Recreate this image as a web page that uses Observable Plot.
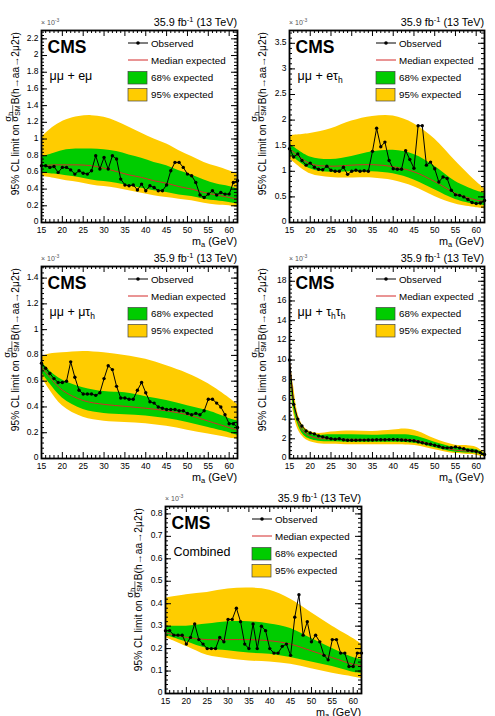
<!DOCTYPE html>
<html><head><meta charset="utf-8">
<script src="https://cdn.jsdelivr.net/npm/d3@7"></script>
<script src="https://cdn.jsdelivr.net/npm/@observablehq/plot@0.6"></script>
<style>
body{margin:0;background:#fff;}
#wrap{position:relative;width:495px;height:716px;overflow:hidden;font-family:"Liberation Sans",Arial,sans-serif;background:#fff;}
#wrap svg{position:absolute;overflow:visible;}
</style></head><body><div id="wrap"></div>
<script>
// ---------- data ----------
const massObs = [15,16,17,18,19,20,21,22,23,24,25,26,27,28,29,30,31,32,33,34,35,36,37,38,39,40,41,42,43,44,45,46,47,48,49,50,51,52,53,54,55,56,57,58,59,60,61,62];
const xMajorTicks = [15,20,25,30,35,40,45,50,55,60];

// mumu + emu
const obs1 = [0.68,0.68,0.66,0.67,0.60,0.66,0.66,0.63,0.58,0.62,0.59,0.58,0.62,0.80,0.64,0.78,0.64,0.80,0.76,0.52,0.45,0.44,0.45,0.39,0.46,0.38,0.44,0.42,0.38,0.38,0.45,0.62,0.72,0.72,0.66,0.58,0.56,0.48,0.33,0.30,0.34,0.38,0.33,0.36,0.34,0.34,0.48,0.50];
const bandMass1 = [15,18,21,24,27,30,33,36,39,42,45,48,51,54,57,60,62];
const hi95_1 = [1.02,1.15,1.23,1.27,1.28,1.26,1.21,1.14,1.07,1.00,0.94,0.86,0.79,0.72,0.67,0.62,0.58];
const hi68_1 = [0.78,0.83,0.87,0.88,0.88,0.87,0.85,0.81,0.77,0.72,0.68,0.62,0.57,0.51,0.46,0.43,0.40];
const med_1  = [0.68,0.69,0.69,0.69,0.68,0.65,0.61,0.57,0.54,0.50,0.47,0.43,0.40,0.36,0.33,0.30,0.28];
const lo68_1 = [0.60,0.58,0.56,0.54,0.51,0.49,0.47,0.44,0.41,0.38,0.36,0.33,0.31,0.28,0.26,0.24,0.22];
const lo95_1 = [0.55,0.53,0.50,0.48,0.45,0.43,0.41,0.38,0.35,0.32,0.30,0.28,0.26,0.23,0.21,0.20,0.18];

// mumu + e tau_h
const obs2 = [1.44,1.28,1.34,1.21,1.12,1.16,1.08,1.04,1.03,1.10,1.02,1.00,1.00,1.08,0.94,1.00,1.02,1.00,1.01,1.00,1.39,1.84,1.48,1.57,1.21,1.05,1.04,1.04,1.40,1.23,1.06,1.89,1.89,1.12,1.18,1.05,0.79,0.89,0.86,0.63,0.54,0.53,0.50,0.45,0.39,0.37,0.38,0.43];
const bandMass2 = [15,20,25,30,35,40,45,50,55,60,62];
const hi95_2 = [1.70,1.74,1.83,1.98,2.07,2.08,1.93,1.63,1.20,0.80,0.66];
const hi68_2 = [1.54,1.28,1.23,1.29,1.38,1.41,1.33,1.10,0.80,0.62,0.57];
const med_2  = [1.44,1.15,1.10,1.12,1.13,1.09,0.99,0.80,0.57,0.44,0.41];
const lo68_2 = [1.34,1.05,0.98,0.99,0.99,0.95,0.83,0.64,0.45,0.35,0.33];
const lo95_2 = [1.25,0.95,0.88,0.87,0.87,0.82,0.70,0.51,0.36,0.29,0.27];

// mumu + mu tau_h
const obs3 = [0.74,0.70,0.66,0.62,0.59,0.59,0.60,0.75,0.63,0.53,0.50,0.50,0.50,0.49,0.51,0.62,0.72,0.69,0.56,0.47,0.47,0.46,0.46,0.53,0.59,0.51,0.44,0.43,0.40,0.39,0.38,0.38,0.38,0.37,0.37,0.35,0.34,0.35,0.34,0.37,0.46,0.46,0.43,0.40,0.34,0.27,0.27,0.24];
const bandMass3 = [15,17,20,25,30,35,40,45,50,55,60,62];
const hi95_3 = [0.79,0.81,0.82,0.83,0.82,0.80,0.77,0.72,0.66,0.58,0.47,0.42];
const hi68_3 = [0.75,0.68,0.61,0.55,0.52,0.51,0.48,0.45,0.41,0.37,0.31,0.29];
const med_3  = [0.71,0.63,0.53,0.45,0.42,0.405,0.39,0.37,0.34,0.29,0.24,0.22];
const lo68_3 = [0.67,0.58,0.47,0.38,0.35,0.34,0.33,0.31,0.28,0.24,0.20,0.18];
const lo95_3 = [0.63,0.53,0.41,0.32,0.29,0.28,0.27,0.25,0.22,0.19,0.16,0.15];

// mumu + tau_h tau_h
const obs4 = [10.0,5.5,4.0,3.3,2.8,2.6,2.5,2.3,2.2,2.1,2.0,1.96,2.0,1.9,1.85,1.85,1.85,1.87,1.87,1.88,1.88,1.9,1.9,1.9,1.92,1.93,1.9,1.88,1.85,1.83,1.8,1.7,1.6,1.5,1.45,1.35,1.25,1.1,1.08,1.1,1.18,1.08,1.0,0.85,0.78,0.74,0.6,0.4];
const bandMass4 = [15,16,17,18,19,20,22,25,30,35,40,43,46,50,55,58,60,62];
const hi95_4 = [10.6,7.3,4.6,3.5,3.0,2.75,2.55,2.7,2.8,2.75,2.9,3.0,2.75,2.0,1.35,1.3,1.15,0.6];
const hi68_4 = [10.3,6.4,4.2,3.2,2.7,2.5,2.35,2.4,2.4,2.35,2.4,2.4,2.2,1.65,1.1,1.0,0.9,0.5];
const med_4  = [9.8,5.7,3.9,2.9,2.5,2.25,2.05,1.98,1.95,1.93,1.96,1.95,1.8,1.35,0.85,0.75,0.68,0.35];
const lo68_4 = [9.3,5.1,3.5,2.6,2.15,1.95,1.75,1.7,1.65,1.65,1.65,1.62,1.5,1.1,0.64,0.55,0.5,0.24];
const lo95_4 = [8.8,4.6,3.0,2.3,1.9,1.7,1.5,1.45,1.4,1.4,1.4,1.38,1.28,0.9,0.5,0.4,0.34,0.17];

// combined
const obs5 = [0.28,0.28,0.26,0.26,0.26,0.22,0.25,0.31,0.24,0.22,0.20,0.20,0.20,0.25,0.23,0.33,0.33,0.38,0.32,0.22,0.20,0.31,0.20,0.30,0.28,0.20,0.18,0.18,0.21,0.22,0.17,0.34,0.44,0.26,0.32,0.23,0.26,0.23,0.17,0.15,0.24,0.24,0.18,0.18,0.12,0.12,0.18,0.18];
const bandMass5 = [15,20,25,30,35,40,45,50,55,60,62];
const hi95_5 = [0.425,0.44,0.45,0.465,0.47,0.46,0.42,0.36,0.30,0.245,0.22];
const hi68_5 = [0.30,0.30,0.31,0.32,0.32,0.31,0.29,0.245,0.20,0.16,0.15];
const med_5  = [0.27,0.25,0.24,0.24,0.24,0.235,0.22,0.19,0.16,0.13,0.125];
const lo68_5 = [0.26,0.23,0.20,0.19,0.18,0.175,0.16,0.14,0.12,0.095,0.09];
const lo95_5 = [0.25,0.21,0.17,0.155,0.145,0.14,0.13,0.11,0.09,0.074,0.067];

const channelLabels = ['μμ + eμ','μμ + eτ<tspan font-size="8.5" dy="3">h</tspan>','μμ + μτ<tspan font-size="8.5" dy="3">h</tspan>','μμ + τ<tspan font-size="8.5" dy="3">h</tspan><tspan dy="-3">τ</tspan><tspan font-size="8.5" dy="3">h</tspan>','Combined'];

// ---------- layout ----------
const panels = [
  {left:0,   top:0,   width:247, height:240, ml:41, mr:10, mt:30, mb:18, ymax:2.3,  ystep:0.2, yminor:0.04, tOff:21.7, obs:obs1, bm:bandMass1, h95:hi95_1, h68:hi68_1, med:med_1, l68:lo68_1, l95:lo95_1, label:channelLabels[0]},
  {left:247, top:0,   width:248, height:240, ml:42, mr:11, mt:30, mb:18, ymax:3.75, ystep:0.5, yminor:0.1,  tOff:23.5, obs:obs2, bm:bandMass2, h95:hi95_2, h68:hi68_2, med:med_2, l68:lo68_2, l95:lo95_2, label:channelLabels[1]},
  {left:0,   top:236, width:247, height:240, ml:41, mr:10, mt:30, mb:18, ymax:1.49, ystep:0.2, yminor:0.04, tOff:22.5, obs:obs3, bm:bandMass3, h95:hi95_3, h68:hi68_3, med:med_3, l68:lo68_3, l95:lo95_3, label:channelLabels[2]},
  {left:247, top:236, width:248, height:240, ml:42, mr:11, mt:30, mb:18, ymax:19.5, ystep:2,   yminor:0.4,  tOff:23.5, obs:obs4, bm:bandMass4, h95:hi95_4, h68:hi68_4, med:med_4, l68:lo68_4, l95:lo95_4, label:channelLabels[3]},
  {left:124, top:476, width:247, height:235, ml:41, mr:10, mt:30, mb:18, ymax:0.833,ystep:0.1, yminor:0.02, tOff:23.5, obs:obs5, bm:bandMass5, h95:hi95_5, h68:hi68_5, med:med_5, l68:lo68_5, l95:lo95_5, label:channelLabels[4]}
];

const YELLOW = "#ffcc00", GREEN = "#00cc00", RED = "#d42a2a";
const wrap = document.getElementById("wrap");

function rangeTicks(max, step) {
  const out = [];
  for (let i = 0; i * step <= max + 1e-9; i++) out.push(+(i * step).toFixed(4));
  return out;
}
const fmt = d => String(+d.toFixed(3));

function addText(g, x, y, html, size, anchor, weight, fill) {
  return g.append("text").attr("x", x).attr("y", y).attr("font-size", size)
    .attr("text-anchor", anchor || "start").attr("font-weight", weight || "normal")
    .attr("fill", fill || "black").html(html);
}

panels.forEach((p, idx) => {
  const iw = p.width - p.ml - p.mr, ih = p.height - p.mt - p.mb;
  const obsData = massObs.map((m, i) => ({m, v: p.obs[i]}));
  const band = p.bm.map((m, i) => ({m, h95: p.h95[i], h68: p.h68[i], med: p.med[i], l68: p.l68[i], l95: p.l95[i]}));
  const xMinor = massObs.filter(m => m % 5 !== 0);
  const yMajor = rangeTicks(p.ymax, p.ystep);
  const yMinor = rangeTicks(p.ymax, p.yminor);
  const tk = {stroke: "black", strokeWidth: 1};
  const chart = Plot.plot({
    width: p.width, height: p.height,
    marginLeft: p.ml, marginRight: p.mr, marginTop: p.mt, marginBottom: p.mb,
    style: {background: "transparent", overflow: "visible", fontFamily: "Liberation Sans, Arial, sans-serif", fontSize: "8.5px", color: "black"},
    x: {domain: [15, 62]},
    y: {domain: [0, p.ymax]},
    marks: [
      Plot.areaY(band, {x: "m", y1: "l95", y2: "h95", fill: YELLOW, curve: "catmull-rom", clip: true}),
      Plot.areaY(band, {x: "m", y1: "l68", y2: "h68", fill: GREEN, curve: "catmull-rom", clip: true}),
      Plot.lineY(band, {x: "m", y: "med", stroke: RED, strokeWidth: 1, curve: "catmull-rom", clip: true}),
      Plot.lineY(obsData, {x: "m", y: "v", stroke: "black", strokeWidth: 1}),
      Plot.dot(obsData, {x: "m", y: "v", r: 1.7, fill: "black", stroke: "none"}),
      // inward ticks on all four sides
      Plot.tickX(xMajorTicks, {x: d => d, insetTop: ih - 6, ...tk}),
      Plot.tickX(xMinor, {x: d => d, insetTop: ih - 3, ...tk}),
      Plot.tickX(xMajorTicks, {x: d => d, insetBottom: ih - 6, ...tk}),
      Plot.tickX(xMinor, {x: d => d, insetBottom: ih - 3, ...tk}),
      Plot.tickY(yMajor, {y: d => d, insetRight: iw - 6, ...tk}),
      Plot.tickY(yMinor, {y: d => d, insetRight: iw - 3, ...tk}),
      Plot.tickY(yMajor, {y: d => d, insetLeft: iw - 6, ...tk}),
      Plot.tickY(yMinor, {y: d => d, insetLeft: iw - 3, ...tk}),
      Plot.frame({stroke: "black", strokeWidth: 1.8}),
      Plot.axisX({ticks: xMajorTicks, tickSize: 0, tickPadding: 4.5, label: null, fontSize: 8.5}),
      Plot.axisY({ticks: yMajor, tickSize: 0, tickPadding: 3, label: null, tickFormat: fmt, fontSize: 8.5, dy: -0.8})
    ]
  });
  chart.style.left = p.left + "px";
  chart.style.top = p.top + "px";
  wrap.appendChild(chart);

  const svg = d3.select(chart);
  const g = svg.append("g").attr("font-family", "Liberation Sans, Arial, sans-serif");
  const xr = p.ml + iw, yb = p.mt + ih;
  // header
  addText(g, xr, p.mt - 4, '35.9 fb<tspan font-size="7.5" dy="-4">-1</tspan><tspan dy="4"> (13 TeV)</tspan>', 10.8, "end");
  addText(g, p.ml, p.mt - 5, '× 10<tspan font-size="5" dy="-3">-3</tspan>', 7, "start", "normal", "#555");
  // CMS + channel
  addText(g, p.ml + 6.5, p.mt + 22.7, 'CMS', 17.5, "start", "bold");
  addText(g, p.ml + 8.5, p.mt + 50, p.label, 12.5, "start");
  // legend
  const lx = p.ml + 87, ly = p.mt + 13;
  g.append("line").attr("x1", lx).attr("x2", lx + 20).attr("y1", ly).attr("y2", ly).attr("stroke", "black");
  g.append("circle").attr("cx", lx + 10).attr("cy", ly).attr("r", 1.8).attr("fill", "black");
  addText(g, lx + 23, ly + 3.5, 'Observed', 9.8);
  g.append("line").attr("x1", lx).attr("x2", lx + 20).attr("y1", ly + 17).attr("y2", ly + 17).attr("stroke", RED);
  addText(g, lx + 23, ly + 20.5, 'Median expected', 9.8);
  g.append("rect").attr("x", lx).attr("y", ly + 28.5).attr("width", 19).attr("height", 12.5).attr("fill", GREEN).attr("stroke", "#444").attr("stroke-width", 0.7);
  addText(g, lx + 23, ly + 38, '68% expected', 9.8);
  g.append("rect").attr("x", lx).attr("y", ly + 45.5).attr("width", 19).attr("height", 12.5).attr("fill", YELLOW).attr("stroke", "#444").attr("stroke-width", 0.7);
  addText(g, lx + 23, ly + 55, '95% expected', 9.8);
  // x title
  addText(g, xr, yb + 22.5, 'm<tspan font-size="7.5" dy="2.5">a</tspan><tspan dy="-2.5"> (GeV)</tspan>', 10.8, "end");
  // y title (rotated)
  const yt = g.append("g");
  const t1 = addText(yt, 0, 0, '95% CL limit on', 10.2);
  const w1 = t1.node().getComputedTextLength() + 2.5;
  const num = addText(yt, w1, -8.3, 'σ<tspan font-size="7" dy="2">h</tspan>', 9.5);
  const den = addText(yt, w1, -1.4, 'σ<tspan font-size="7" dy="2">SM</tspan>', 9.5);
  const fw = Math.max(num.node().getBBox().width, den.node().getBBox().width);
  yt.append("line").attr("x1", w1).attr("x2", w1 + fw).attr("y1", -6.6).attr("y2", -6.6).attr("stroke", "black").attr("stroke-width", 0.6);
  const t3 = addText(yt, w1 + fw + 1, 0, 'B(h→aa→2μ2τ)', 10.2);
  const total = w1 + fw + 1 + t3.node().getComputedTextLength();
  yt.attr("transform", `translate(${p.ml - p.tOff},${p.mt + 2 + total}) rotate(-90)`);
});
</script></body></html>
